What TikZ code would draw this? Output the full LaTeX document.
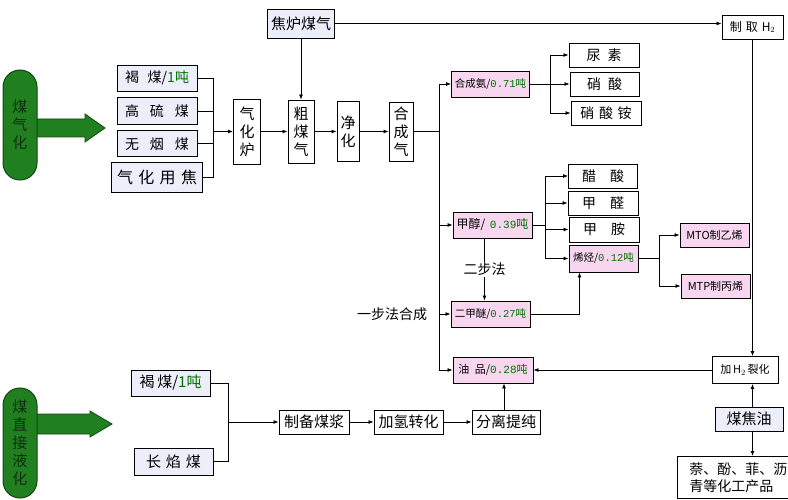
\documentclass[tikz,border=0pt]{standalone}
\usepackage{fontspec}
\setmainfont{Noto Sans CJK SC}
\newfontfamily\numfont{Liberation Mono}
\usepackage{xcolor}
\usepackage{tikz}
\usetikzlibrary{arrows.meta,positioning}
\definecolor{tgreen}{RGB}{0,110,0}
\definecolor{pillgreen}{RGB}{32,128,32}
\definecolor{pilledge}{RGB}{20,70,20}
\definecolor{pilltext}{RGB}{15,45,15}
\definecolor{pinkfill}{RGB}{248,214,240}
\definecolor{srcfill}{RGB}{236,238,250}
\newcommand{\fsz}[1]{\fontsize{#1}{#1}\selectfont}
\newcommand{\tn}[1]{\textcolor{tgreen}{#1}}
\newcommand{\spread}[2]{\makebox[#1][s]{#2}}
\tikzset{
  plainbox/.style={draw, line width=0.9pt, fill=white, inner sep=0pt,
    align=center, font={\fsz{14}}},
  srcbox/.style={plainbox, fill=srcfill},
  pinkbox/.style={plainbox, fill=pinkfill, font={\fsz{11}}},
  vertbox/.style={plainbox, font={\fontsize{15}{18}\selectfont}},
  pillbox/.style={draw=pilledge, line width=1pt, fill=pillgreen,
    rounded corners=17pt, minimum width=34pt, minimum height=110pt,
    align=center, text=pilltext, font={\fontsize{15}{18}\selectfont}},
  bigarrow/.style={draw=pilledge, line width=0.8pt, fill=pillgreen},
  flow/.style={-{Latex[length=5pt,width=4pt]}, line width=0.8pt},
  link/.style={line width=0.8pt}
}

\begin{document}
\begin{tikzpicture}[x=1pt,y=-1pt]
\useasboundingbox (0,0) rectangle (788,500);

% coal gasification
\draw[bigarrow] (30,119) -- (85,119) -- (85,114) -- (105,128)
  -- (85,142) -- (85,137) -- (30,137) -- cycle;
\node[pillbox] (gaspill) at (20,125) {煤\\气\\化};

\node[srcbox, minimum width=80pt, minimum height=26pt] (hemei) at (157,78)
  {\spread{64pt}{褐\hfill 煤/\tn{1吨}}};
\node[srcbox, minimum width=80pt, minimum height=27pt, below=6pt of hemei] (gls)
  {\spread{64pt}{高\hfill 硫\hfill 煤}};
\node[srcbox, minimum width=80pt, minimum height=26pt, below=5pt of gls] (wym)
  {\spread{64pt}{无\hfill 烟\hfill 煤}};
\node[srcbox, minimum width=91pt, minimum height=30pt, below=5pt of wym,
  font={\fsz{16}}] (qhyj) {\spread{80pt}{气\hfill 化\hfill 用\hfill 焦}};
\coordinate (gasbus) at (213,131.5);

\node[vertbox, minimum width=27pt, minimum height=65pt] (qhl) at (247,131.5) {气\\化\\炉};
\node[vertbox, minimum width=26pt, minimum height=63pt] (cmq) at (301,131.5) {粗\\煤\\气};
\node[vertbox, minimum width=22pt, minimum height=60pt] (jh) at (348,131.5) {净\\化};
\node[vertbox, minimum width=24pt, minimum height=59pt] (hcq) at (401,131.5) {合\\成\\气};
\node[srcbox, minimum width=67pt, minimum height=29pt, font={\fsz{15}}] (jlmq)
  at (301,23.5) {焦炉煤气};
\node[plainbox, minimum width=61pt, minimum height=24pt, font={\fsz{12}}] (zqh)
  at (752.5,27) {制\,\,取\,\,H$_2$};
\coordinate (synbus) at (439,131.5);

% ammonia branch
\node[pinkbox, minimum width=78pt, minimum height=26pt, font={\fsz{10.5}}] (hca)
  at (490.5,84) {合成氨/\tn{{\numfont 0.71}吨}};
\coordinate (ambus) at (550,84);
\node[plainbox, minimum width=70pt, minimum height=24pt] (ns) at (604,55) {尿\enspace 素};
\node[plainbox, minimum width=69pt, minimum height=24pt] (xs) at (604.5,84) {硝\enspace 酸};
\node[plainbox, minimum width=70pt, minimum height=24pt] (xsa) at (606,113) {硝\,\,酸\,\,铵};

% methanol branch
\node[pinkbox, minimum width=79pt, minimum height=26pt, font={\fsz{12}}] (jc)
  at (492.5,225) {甲醇/\kern-2pt\tn{{\numfont\fsz{11} 0.39}吨}};
\coordinate (mebus) at (545,225);
\node[plainbox, minimum width=69pt, minimum height=24pt] (cs) at (603,176) {醋\quad 酸};
\node[plainbox, minimum width=70pt, minimum height=24pt] (jq) at (603,203) {甲\quad 醛};
\node[plainbox, minimum width=70pt, minimum height=25pt] (ja) at (604,229.5) {甲\quad 胺};
\node[pinkbox, minimum width=69pt, minimum height=27pt, font={\fsz{10.5}}] (xt)
  at (603.5,258.5) {烯烃/\tn{{\numfont 0.12}吨}};
\node[pinkbox, minimum width=79pt, minimum height=26pt, font={\fsz{10.5}}] (dme)
  at (490.5,314) {二甲醚/\tn{{\numfont 0.27}吨}};
\coordinate (olbus) at (659,258.5);
\node[pinkbox, minimum width=69pt, minimum height=24pt] (mto) at (714.5,235) {MTO制乙烯};
\node[pinkbox, minimum width=69pt, minimum height=24pt] (mtp) at (715.5,286) {MTP制丙烯};
\node[font={\fsz{14}}] (ybf) at (392,314) {一步法合成};

% oil products
\node[pinkbox, minimum width=80pt, minimum height=26pt] (youpin) at (493,370)
  {油\enspace 品/\tn{{\numfont 0.28}吨}};
\node[plainbox, minimum width=66pt, minimum height=27pt, font={\fsz{11}}] (jh2)
  at (745,370) {加\,H$_2$\,裂化};
\node[srcbox, minimum width=68pt, minimum height=24pt, font={\fsz{15}}] (mjy)
  at (749,419) {煤焦油};
\node[plainbox, minimum width=118pt, minimum height=42pt, anchor=north west,
  align=left, font={\fontsize{14}{17}\selectfont}] (chem) at (677,456)
  {\hspace{4pt}萘、酚、菲、沥\\\hspace{4pt}青等化工产品};

% coal liquefaction
\draw[bigarrow] (30,414) -- (90,414) -- (90,411) -- (112,424)
  -- (90,437) -- (90,434) -- (30,434) -- cycle;
\node[pillbox] (liqpill) at (20,443) {煤\\直\\接\\液\\化};
\node[srcbox, minimum width=79pt, minimum height=26pt, font={\fsz{15}}] (hm2)
  at (170.5,383) {\spread{62pt}{褐\hfill 煤/\tn{1吨}}};
\node[srcbox, minimum width=79pt, minimum height=27pt, font={\fsz{15}}] (czm)
  at (173.5,461.5) {长\,\,焰\,\,煤};
\coordinate (liqbus) at (228,422);
\node[plainbox, minimum width=70pt, minimum height=24pt, font={\fsz{15}}] (zbmj)
  at (314,422) {制备煤浆};
\node[plainbox, minimum width=69pt, minimum height=24pt, font={\fsz{15}}] (jqzh)
  at (408.5,422) {加氢转化};
\node[plainbox, minimum width=68pt, minimum height=24pt, font={\fsz{15}}] (flfc)
  at (506,422) {分离提纯};

% connectors
\foreach \src in {hemei,gls,wym,qhyj}
  \draw[link] (\src.east) -| (gasbus);
\draw[link] (hemei.east -| gasbus) -- (qhyj.east -| gasbus);
\draw[flow] (gasbus) -- (qhl);
\draw[flow] (qhl) -- (cmq);
\draw[flow] (jlmq) -- (cmq);
\draw[flow] (cmq) -- (jh);
\draw[flow] (jh) -- (hcq);
\draw[flow] (jlmq.east) -- (jlmq.east -| zqh.west);
\draw[link] (hcq) -- (synbus);
\draw[link] (synbus |- hca) -- (synbus |- youpin);
\foreach \dst in {hca,jc,dme,youpin}
  \draw[flow] (synbus |- \dst) -- (\dst);

\draw[link] (hca) -- (ambus);
\draw[link] (ambus |- ns) -- (ambus |- xsa);
\foreach \dst in {ns,xs,xsa}
  \draw[flow] (ambus |- \dst) -- (\dst);

\draw[link] (jc) -- (mebus);
\draw[link] (mebus |- cs) -- (mebus |- xt);
\foreach \dst in {cs,jq,ja,xt}
  \draw[flow] (mebus |- \dst) -- (\dst);
\draw[flow] ([xshift=-8pt]jc.south) -- ([xshift=-8pt]jc.south |- dme.north)
  node[midway, fill=white, inner sep=1pt, font={\fsz{14}}] {二步法};
\draw[flow] (dme.east) -| ([xshift=-24pt]xt.south);

\draw[link] (xt) -- (olbus);
\draw[link] (olbus |- mto) -- (olbus |- mtp);
\foreach \dst in {mto,mtp}
  \draw[flow] (olbus |- \dst) -- (\dst);

\draw[flow] (zqh.south) -- (zqh.south |- jh2.north);
\draw[flow] (jh2) -- (youpin);
\draw[flow] (zqh.south |- mjy.north) -- (zqh.south |- jh2.south);
\draw[flow] (zqh.south |- mjy.south) -- (zqh.south |- chem.north);

\foreach \src in {hm2,czm}
  \draw[link] (\src.east) -| (liqbus);
\draw[flow] (liqbus) -- (zbmj);
\draw[flow] (zbmj) -- (jqzh);
\draw[flow] (jqzh) -- (flfc);
\draw[flow] ([xshift=-2pt]flfc.north) -- ([xshift=-2pt]flfc.north |- youpin.south);
\end{tikzpicture}
\end{document}
